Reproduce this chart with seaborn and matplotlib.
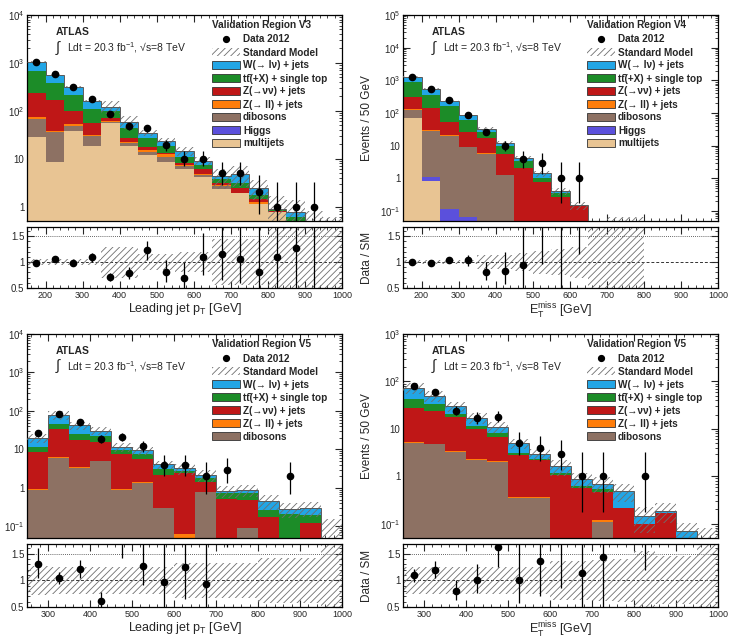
import math
import numpy as np
import pandas as pd
import matplotlib
matplotlib.use("Agg")
import matplotlib.pyplot as plt
import matplotlib.ticker as mticker
from matplotlib.patches import Patch
from matplotlib.lines import Line2D
import seaborn as sns

sns.set_theme(style="ticks")
plt.rcParams["font.family"] = ["Liberation Sans", "DejaVu Sans"]
plt.rcParams["mathtext.fontset"] = "custom"
plt.rcParams["mathtext.rm"] = "Liberation Sans"
plt.rcParams["mathtext.it"] = "Liberation Sans:italic"
plt.rcParams["mathtext.bf"] = "Liberation Sans:bold"
plt.rcParams["mathtext.default"] = "regular"
plt.rcParams["hatch.linewidth"] = 0.6

# ---------------- data ----------------
EDGES_A = list(range(150, 1001, 50))   # V3, V4
EDGES_B = list(range(250, 1001, 50))   # V5

V3_DATA = [1030, 590, 310, 177, 86, 47, 43, 19, 10, 10, 5, 5, 2, 1, 1, 1, 0]
V3_W = [360, 185, 101, 52, 22, 16.4, 8.3, 5.5, 3.3, 1.7, 0.5, 1.65, 0.7, 0.06, 0.18, 0.1, 0]
V3_TT = [450, 207, 114, 55, 30, 15.5, 8.8, 4.6, 3.0, 1.4, 0.7, 0.6, 0.33, 0.03, 0.15, 0, 0]
V3_ZVV = [167, 130, 47, 24, 10, 4.8, 2.7, 0.8, 0.6, 1.2, 0.3, 0.6, 0.15, 0.05, 0.05, 0, 0]
V3_ZLL = [5, 3, 4, 1.5, 3, 1.7, 1.2, 1.6, 0.2, 0.2, 0.1, 0, 0.15, 0, 0, 0, 0]
V3_DIB = [40, 27, 12, 10.8, 1, 2.3, 2.1, 2.3, 1.2, 0.5, 0.4, 0, 0, 0, 0, 0, 0]
V3_HIG = [0] * 17
V3_MJ = [28, 8.4, 37, 18.7, 56, 18.7, 11.9, 8.7, 6.0, 4.1, 2.3, 1.9, 1.12, 0.77, 0.4, 0.35, 0.3]
V3_UNC = [0.06, 0.06, 0.06, 0.06, 0.3, 0.3, 0.15, 0.15, 0.2, 0.2, 0.45, 0.45, 0.45, 0.8, 0.8, 0.8, 1.0]

V4_DATA = [1290, 540, 250, 89, 27, 10, 4, 3, 1, 1, 0, 0, 0, 0, 0, 0, 0]
V4_W = [380, 190, 76, 25, 6, 2, 0.74, 0.42, 0.07, 0.005, 0, 0, 0, 0, 0, 0, 0]
V4_TT = [594, 216, 110, 34, 10.2, 4.2, 1.36, 0.21, 0.07, 0, 0, 0, 0, 0, 0, 0, 0]
V4_ZVV = [184, 109, 32.6, 17.6, 11, 4.5, 2.1, 0.79, 0.28, 0.145, 0.02, 0.03, 0.03, 0, 0, 0, 0]
V4_ZLL = [9, 2, 1.4, 0.2, 0.05, 0.02, 0, 0, 0, 0, 0, 0, 0, 0, 0, 0, 0]
V4_DIB = [54, 27, 19.9, 9.1, 5.8, 1.26, 0, 0, 0, 0, 0, 0, 0, 0, 0, 0, 0]
V4_HIG = [0.3, 0.25, 0.12, 0.065, 0, 0, 0, 0, 0, 0, 0, 0, 0, 0, 0, 0, 0]
V4_MJ = [69, 0.85, 0, 0, 0, 0, 0, 0, 0, 0, 0, 0, 0, 0, 0, 0, 0]
V4_UNC = [0.04, 0.04, 0.04, 0.04, 0.14, 0.14, 0.18, 0.22, 0.25, 0.3, 1.2, 1.2, 1.2, 0, 0, 0, 0]

V5J_DATA = [26, 84, 51, 19, 21, 12, 4, 4, 2, 3, 0, 0, 2, 0, 0]
V5J_W = [8.5, 33, 17.5, 9, 1.9, 1.8, 0.94, 0.45, 0.3, 0.11, 0.13, 0.19, 0.07, 0.11, 0]
V5J_TT = [3, 12, 6.5, 6, 1.9, 2.2, 0.99, 0.35, 0.39, 0.22, 0.26, 0.09, 0.19, 0.08, 0]
V5J_ZVV = [7.6, 28.5, 14.6, 10.9, 6.8, 4.04, 1.86, 2.335, 0.66, 0.51, 0.41, 0.18, 0.02, 0.12, 0.04]
V5J_ZLL = [0.03, 0.4, 0.2, 0.2, 0.04, 0.09, 0.01, 0.065, 0, 0, 0, 0, 0, 0, 0]
V5J_DIB = [0.89, 6.1, 3.2, 4.9, 0.89, 1.37, 0.3, 0, 0.8, 0, 0.09, 0, 0, 0, 0]
V5J_UNC = [0.27, 0.25, 0.25, 0.25, 0.25, 0.25, 0.25, 0.33, 0.33, 0.33, 0.33, 0.42, 0.42, 0.42, 3.0]

V5M_DATA = [81, 60, 24, 17, 18, 5, 4, 3, 1, 1, 0, 1, 0, 0, 0]
V5M_W = [32.3, 17, 9.6, 5.3, 3.0, 1.86, 0.66, 0.44, 0.26, 0.17, 0.28, 0.044, 0.02, 0.07, 0]
V5M_TT = [14.7, 9, 3, 1.7, 1.2, 0.34, 0.08, 0.09, 0.05, 0.06, 0, 0, 0, 0, 0]
V5M_ZVV = [21.7, 19.1, 13.95, 7.72, 4.8, 2.43, 1.83, 1.08, 0.57, 0.353, 0.21, 0.1, 0.17, 0, 0.03]
V5M_ZLL = [0.25, 0.2, 0.15, 0.08, 0.1, 0.02, 0.02, 0, 0, 0.007, 0, 0, 0, 0, 0]
V5M_DIB = [5.05, 4.7, 3.3, 2.2, 2.0, 0.35, 0.35, 0, 0, 0.11, 0, 0, 0, 0, 0]
V5M_UNC = [0.25, 0.25, 0.25, 0.25, 0.25, 0.25, 0.25, 0.36, 0.36, 0.38, 0.4, 0.55, 0.45, 0.45, 1.7]

PROCESSES = ["W", "tt", "Zvv", "Zll", "dib", "Higgs", "mj"]
LABELS = {
    "W": "W(→ lν) + jets",
    "tt": "tt\u0304(+X) + single top",
    "Zvv": "Z(→νν) + jets",
    "Zll": "Z(→ ll) + jets",
    "dib": "dibosons",
    "Higgs": "Higgs",
    "mj": "multijets",
}
COLORS = {
    "W": "#22a6e6",
    "tt": "#1c8c28",
    "Zvv": "#bf1717",
    "Zll": "#ff7d0a",
    "dib": "#8d7163",
    "Higgs": "#5b50dc",
    "mj": "#e8c493",
}
HATCH = "/////"
HATCH_COLOR = "#6e6e6e"
PT_LABEL = r"Leading jet p$_{\mathrm{T}}$ [GeV]"
MET_LABEL = r"E$_{\mathrm{T}}^{\mathrm{miss}}$ [GeV]"
LEG_SIZE = 7.2


def px_rect(x0, y0, x1, y1, W=729, H=639):
    return [x0 / W, 1 - y1 / H, (x1 - x0) / W, (y1 - y0) / H]


def poisson_interval(n):
    if n <= 0:
        return 0.0, 0.0
    if n > 30:
        s = math.sqrt(n)
        return s, s
    alpha = 0.5 * (1 - 0.682689)

    def cdf(k, lam):
        return sum(math.exp(-lam + i * math.log(lam) - math.lgamma(i + 1)) for i in range(k + 1))

    a, b = float(n), n + 10 * math.sqrt(n) + 10
    for _ in range(60):
        m = 0.5 * (a + b)
        if cdf(n, m) > alpha:
            a = m
        else:
            b = m
    up = 0.5 * (a + b)
    a, b = 1e-9, float(n)
    for _ in range(60):
        m = 0.5 * (a + b)
        if cdf(n - 1, m) > 1 - alpha:
            a = m
        else:
            b = m
    low = 0.5 * (a + b)
    return n - low, up - n


def log_fmt(v, pos):
    if v <= 0:
        return ""
    e = math.log10(v)
    if abs(e - round(e)) > 1e-6:
        return ""
    e = int(round(e))
    if e == 0:
        return "1"
    if e == 1:
        return "10"
    return r"$10^{%d}$" % e


def style_axis(a):
    a.tick_params(which="both", direction="in", top=True, right=True, labelsize=7, pad=2)
    a.tick_params(which="major", length=5, width=0.8)
    a.tick_params(which="minor", length=2.5, width=0.6)
    for s in a.spines.values():
        s.set_linewidth(0.9)
        s.set_color("black")


def draw_panel(fig, main_rect, ratio_rect, edges, data, comps, names, unc,
               ylim, title, xlabel, leg_x):
    ax = fig.add_axes(main_rect)
    rx = fig.add_axes(ratio_rect)
    edges = np.asarray(edges, float)
    centers = 0.5 * (edges[:-1] + edges[1:])
    widths = np.diff(edges)

    rows = []
    for name, vals in zip(names, comps):
        for c, v in zip(centers, vals):
            rows.append({"x": c, "w": v, "process": name})
    df = pd.DataFrame(rows)
    sns.histplot(data=df, x="x", weights="w", hue="process", hue_order=names,
                 palette=[COLORS[n] for n in names], bins=list(edges), multiple="stack",
                 element="bars", linewidth=0, alpha=1, legend=False, ax=ax)
    ax.set_yscale("log")

    total = np.sum(np.asarray(comps, float), axis=0)
    unc = np.asarray(unc, float)
    mask = total > 0
    lo = np.clip(total * (1 - unc), 1e-5, None)
    hi = total * (1 + unc)
    ax.bar(edges[:-1][mask], (hi - lo)[mask], bottom=lo[mask], width=widths[mask],
           align="edge", fill=False, hatch=HATCH, edgecolor=HATCH_COLOR, linewidth=0, zorder=3)
    ax.stairs(total, edges, color="#5a5a5a", linewidth=0.7, baseline=None, zorder=3.5)

    d = np.asarray(data, float)
    errs = np.array([poisson_interval(int(n)) for n in d]).T
    sel = d > 0
    ax.errorbar(centers[sel], d[sel], yerr=errs[:, sel], fmt="o", ms=4.5, color="black",
                elinewidth=0.9, capsize=0, zorder=5)

    # ratio panel
    rx.bar(edges[:-1][mask], (2 * unc)[mask], bottom=(1 - unc)[mask], width=widths[mask],
           align="edge", fill=False, hatch=HATCH, edgecolor=HATCH_COLOR, linewidth=0, zorder=2)
    rsel = sel & mask
    rx.errorbar(centers[rsel], d[rsel] / total[rsel], yerr=errs[:, rsel] / total[rsel],
                fmt="o", ms=4.5, color="black", elinewidth=0.9, capsize=0, zorder=5)
    rx.axhline(1.0, color="#333333", lw=0.7, ls=(0, (3, 2)), zorder=1)
    rx.axhline(1.5, color="#333333", lw=0.6, ls=(0, (1, 1.5)), zorder=1)

    for a in (ax, rx):
        a.set_xlim(edges[0], edges[-1])
        a.xaxis.set_major_locator(mticker.MultipleLocator(100))
        a.xaxis.set_minor_locator(mticker.MultipleLocator(20))
        style_axis(a)

    ax.set_ylim(*ylim)
    ax.yaxis.set_major_locator(mticker.LogLocator(base=10, numticks=20))
    ax.yaxis.set_minor_locator(mticker.LogLocator(base=10, subs=np.arange(2, 10), numticks=20))
    ax.yaxis.set_major_formatter(mticker.FuncFormatter(log_fmt))
    ax.yaxis.set_minor_formatter(mticker.NullFormatter())
    ax.tick_params(labelbottom=False)
    ax.set_xlabel("")
    ax.set_ylabel("Events / 50 GeV", fontsize=8.5)
    ax.yaxis.set_label_coords(-0.095, 0.5)

    rx.set_ylim(0.5, 1.68)
    rx.set_yticks([0.5, 1.0, 1.5])
    rx.set_yticklabels(["0.5", "1", "1.5"])
    rx.yaxis.set_minor_locator(mticker.MultipleLocator(0.1))
    rx.set_ylabel("Data / SM", fontsize=8.5)
    rx.yaxis.set_label_coords(-0.095, 0.5)
    rx.set_xlabel(xlabel, fontsize=9, labelpad=1)
    rx.tick_params(axis="x", labelsize=6.5)

    ax.text(0.092, 0.918, "ATLAS", transform=ax.transAxes, fontsize=7.5,
            fontweight="bold", va="center")
    ax.text(0.09, 0.842, "∫", transform=ax.transAxes, fontsize=10.5, va="center")
    ax.text(0.127, 0.842, "Ldt = 20.3 fb$^{-1}$, √s=8 TeV", transform=ax.transAxes,
            fontsize=7.5, va="center")

    # legend, with its title drawn as a separate text
    h_ax = ax.get_position().height * fig.get_figheight() * fig.dpi
    ax.text(leg_x, 1 - 10 / h_ax, title, transform=ax.transAxes, fontsize=LEG_SIZE,
            fontweight="bold", va="center", ha="left")
    handles = [Line2D([], [], marker="o", color="black", ls="none", ms=4.2),
               Patch(facecolor="none", edgecolor=HATCH_COLOR, hatch=HATCH, linewidth=0)]
    handles += [Patch(facecolor=COLORS[n], edgecolor="#333333", linewidth=0.6) for n in names]
    labels = ["Data 2012", "Standard Model"] + [LABELS[n] for n in names]
    ax.legend(handles, labels, loc="upper left", bbox_to_anchor=(leg_x, 1 - 19.5 / h_ax),
              frameon=False, prop={"weight": "bold", "size": LEG_SIZE},
              handlelength=2.8, handleheight=0.8, labelspacing=0.3, handletextpad=0.3,
              borderaxespad=0, borderpad=0)
    return ax, rx


fig = plt.figure(figsize=(7.29, 6.39), dpi=100)

NAMES_FULL = PROCESSES
NAMES_V5 = ["W", "tt", "Zvv", "Zll", "dib"]

draw_panel(fig, px_rect(27, 15, 342, 221), px_rect(27, 227, 342, 288), EDGES_A, V3_DATA,
           [V3_W, V3_TT, V3_ZVV, V3_ZLL, V3_DIB, V3_HIG, V3_MJ], NAMES_FULL, V3_UNC,
           (0.5, 1e4), "Validation Region V3", PT_LABEL, 0.587)
draw_panel(fig, px_rect(403, 15, 718, 221), px_rect(403, 227, 718, 288), EDGES_A, V4_DATA,
           [V4_W, V4_TT, V4_ZVV, V4_ZLL, V4_DIB, V4_HIG, V4_MJ], NAMES_FULL, V4_UNC,
           (0.05, 1e5), "Validation Region V4", MET_LABEL, 0.584)
draw_panel(fig, px_rect(27, 334, 342, 538), px_rect(27, 544, 342, 607), EDGES_B, V5J_DATA,
           [V5J_W, V5J_TT, V5J_ZVV, V5J_ZLL, V5J_DIB], NAMES_V5, V5J_UNC,
           (0.05, 1e4), "Validation Region V5", PT_LABEL, 0.587)
draw_panel(fig, px_rect(403, 334, 718, 538), px_rect(403, 544, 718, 607), EDGES_B, V5M_DATA,
           [V5M_W, V5M_TT, V5M_ZVV, V5M_ZLL, V5M_DIB], NAMES_V5, V5M_UNC,
           (0.05, 1e3), "Validation Region V5", MET_LABEL, 0.584)

fig.savefig("out.png", dpi=100, facecolor="white")
